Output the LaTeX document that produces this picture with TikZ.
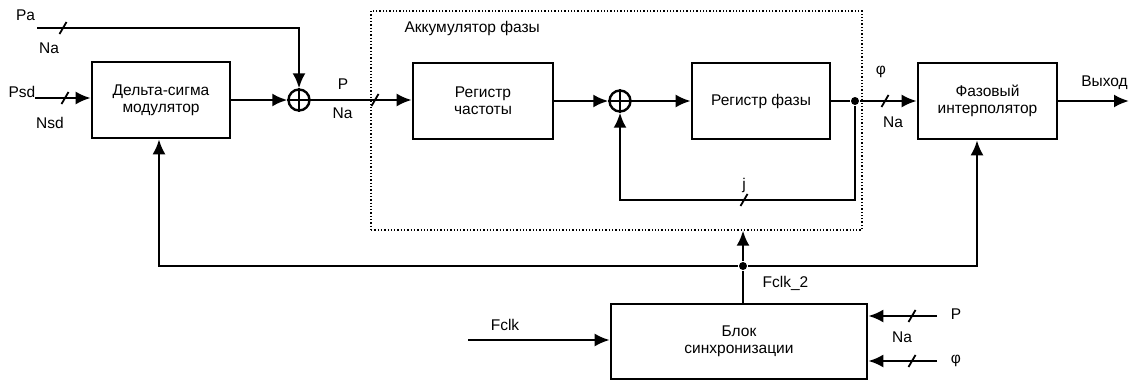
\documentclass[tikz,border=0pt]{standalone}
\usepackage{fontspec}
\setmainfont{Liberation Sans}
\usepackage{tikz}
\usetikzlibrary{arrows.meta}
\tikzset{
block/.style={draw, line width=2.6pt, align=center, inner sep=0pt},
sumnode/.style={shape=circle, draw, line width=2.4pt, minimum size=21pt, inner sep=0pt},
dotnode/.style={shape=circle, fill, minimum size=8pt, inner sep=0pt},
busmark/.pic={\draw[line width=1.8pt] (-3.5,6) -- (3.5,-6);}
}

\begin{document}
\begin{tikzpicture}[x=1pt, y=-1pt, line width=2.4pt, >={Latex[length=15pt,width=13pt]},
    every node/.style={font=\fontsize{15.5}{17}\selectfont}]
    
                \useasboundingbox (0,0) rectangle (1131,383);
                \node[draw, dotted, line width=1.3pt, minimum width=491pt, minimum height=219pt] (acc) at (616.5,120.5) {};
                \node[anchor=west] (lacc) at (400,28) {Аккумулятор фазы};
            
                \node[block, minimum width=138pt, minimum height=76pt] (ds) at (161,100) {Дельта-сигма\\модулятор};
                \node[block, minimum width=140pt, minimum height=76pt] (rf) at (483,101) {Регистр\\частоты};
                \node[block, minimum width=138pt, minimum height=76pt] (rph) at (761,101) {Регистр фазы};
                \node[block, minimum width=139pt, minimum height=76pt] (fi) at (987.5,101) {Фазовый\\интерполятор};
                \node[block, minimum width=256pt, minimum height=75pt] (sync) at (739,341.5) {Блок\\синхронизации};
                \node[sumnode] (s1) at (299,100) {};
                \node[sumnode] (s2) at (620,101) {};
                \node[dotnode] (d1) at (855,101) {};
                \node[dotnode] (d2) at (743,266) {};
            
                \coordinate (pa) at (37,28);
                \coordinate (psd) at (35,98);
                \coordinate (fb) at (855,200);
                \coordinate (out) at (1129,101);
                \coordinate (cl) at (159,266);
                \coordinate (cr) at (977,266);
                \coordinate (clk) at (468,340);
                \coordinate (pin) at (937,316);
                \coordinate (phin) at (937,361);
            
                \draw[line width=2pt] (s1.north) -- (s1.south) (s1.west) -- (s1.east);
                \draw[line width=2pt] (s2.north) -- (s2.south) (s2.west) -- (s2.east);
            
                \draw[->] (pa) -| (s1.north);
                \draw[->] (psd) -- (psd -| ds.west);
                \draw[->] (ds.east |- s1) -- (s1.west);
                \draw[->] (s1.east) -- (s1.east -| rf.west);
                \draw[->] (rf.east) -- (s2.west);
                \draw[->] (s2.east) -- (rph.west);
                \draw (rph.east) -- (d1);
                \draw[->] (d1) -- (fi.west);
                \draw[->] (d1) -- (fb) -| (s2.south);
                \draw[->] (fi.east) -- (out);
                \draw (sync.north -| d2) -- (d2);
                \draw[->] (d2) -- (d2 |- acc.south);
                \draw[->] (d2) -- (cl) -- (cl |- ds.south);
                \draw[->] (d2) -- (cr) -- (cr |- fi.south);
                \draw[->] (clk) -- (clk -| sync.west);
                \draw[->] (pin) -- (pin -| sync.east);
                \draw[->] (phin) -- (phin -| sync.east);
            
                \pic at (63,28) {busmark};
                \pic at (65,98) {busmark};
                \pic at (375,100) {busmark};
                \pic at (885,101) {busmark};
                \pic at (744,200) {busmark};
                \pic at (912,316) {busmark};
                \pic at (912,361) {busmark};
            
                \node (lpa) at (25.5,15) {Pa};
                \node (lna1) at (49,48) {Na};
                \node (lpsd) at (22,91.5) {Psd};
                \node (lnsd) at (50,123) {Nsd};
                \node (lp) at (343,84) {P};
                \node (lna2) at (342.5,113) {Na};
                \node (lj) at (744,185) {j};
                \node (lphi) at (881,72) {φ};
                \node (lna3) at (893,122) {Na};
                \node (lout) at (1104.5,83) {Выход};
                \node (lfclk) at (505,325) {Fclk};
                \node (lfclk2) at (785.5,283) {Fclk\_2};
                \node (lp2) at (956,314) {P};
                \node (lna4) at (902,337) {Na};
                \node (lphi2) at (956,361) {φ};
        
            \end{tikzpicture}
\end{document}
